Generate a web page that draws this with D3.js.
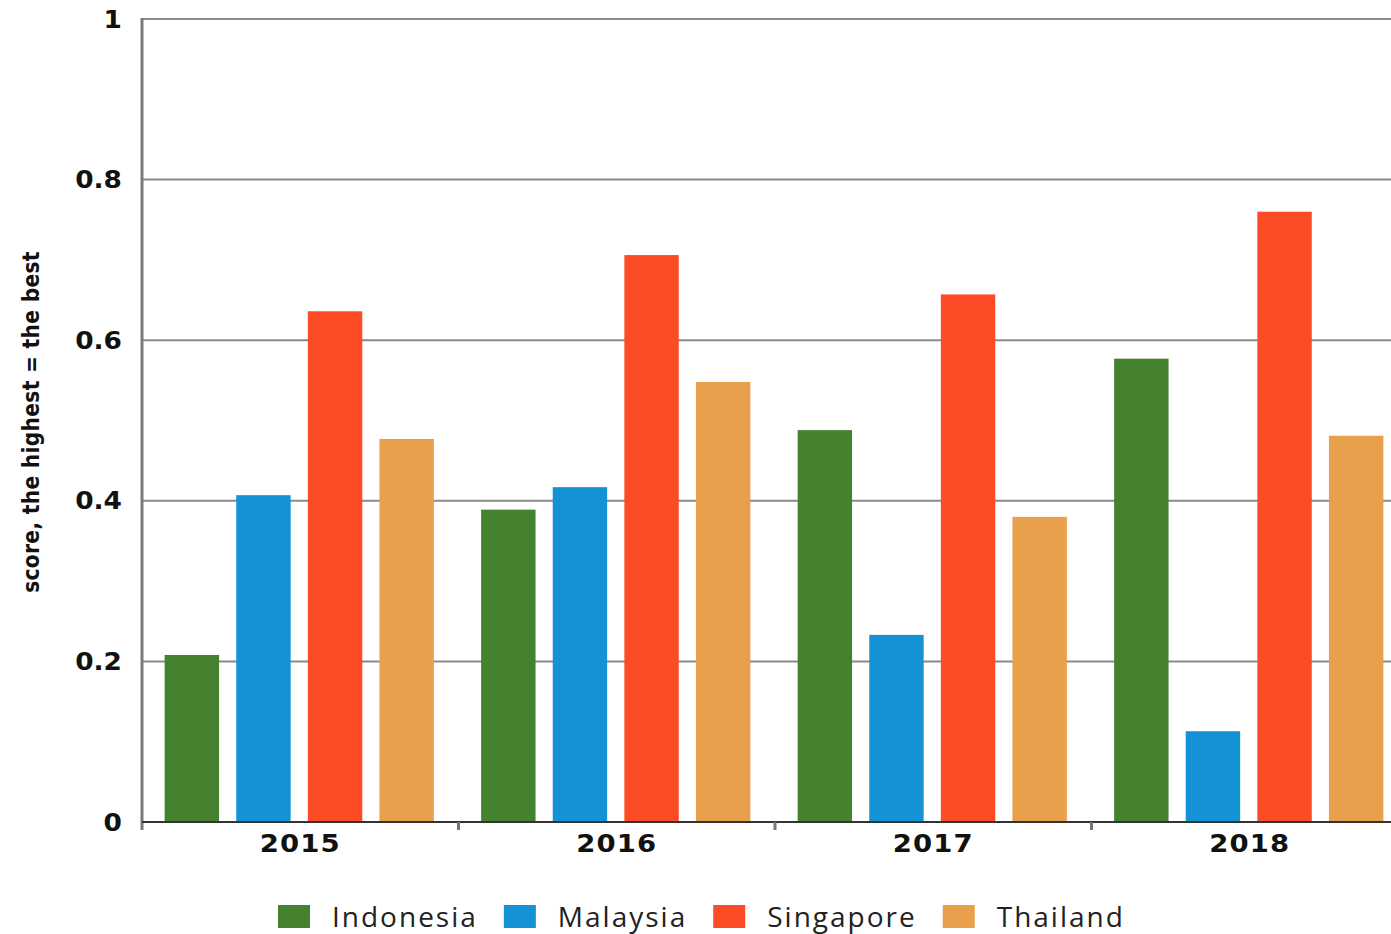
<!DOCTYPE html>
<html><head><meta charset="utf-8">
<script src="https://cdn.jsdelivr.net/npm/d3@7"></script>
<style>body{margin:0;background:#fff;}svg{display:block;}</style>
</head><body>
<svg id="c" width="1391" height="934"></svg>
<script>
const years = ["2015","2016","2017","2018"];
const countries = ["Indonesia","Malaysia","Singapore","Thailand"];
const colors = ["#44822f","#1591d6","#fd4b26","#e8a04d"];
const indonesia = [0.208, 0.389, 0.488, 0.577];
const malaysia  = [0.407, 0.417, 0.233, 0.113];
const singapore = [0.636, 0.706, 0.657, 0.760];
const thailand  = [0.477, 0.548, 0.380, 0.481];
const yTicks = [0, 0.2, 0.4, 0.6, 0.8, 1];
const yTitle = "score, the highest = the best";

const series = [indonesia, malaysia, singapore, thailand];
const svg = d3.select("#c");
const x0 = d3.scaleBand().domain(years).range([142, 1408]).padding(0);
const x1 = d3.scaleBand().domain(countries).range([0, x0.bandwidth()]).paddingInner(0.24).paddingOuter(0.33);
const y = d3.scaleLinear().domain([0, 1]).range([822, 19]);
const color = d3.scaleOrdinal().domain(countries).range(colors);

// gridlines
svg.append("g").selectAll("line").data(yTicks.filter(d => d > 0)).join("line")
  .attr("x1", 142).attr("x2", 1391).attr("y1", d => y(d)).attr("y2", d => y(d))
  .attr("stroke", "#8a8a8a").attr("stroke-width", 2);

// bars
const g = svg.append("g").selectAll("g").data(years).join("g")
  .attr("transform", d => `translate(${x0(d)},0)`);
g.selectAll("rect").data((d, i) => countries.map((c, j) => ({c, v: series[j][i]}))).join("rect")
  .attr("x", d => x1(d.c) - 1).attr("width", x1.bandwidth())
  .attr("y", d => y(d.v)).attr("height", d => y(0) - y(d.v))
  .attr("fill", d => color(d.c));

// left axis line
svg.append("line").attr("x1", 142).attr("x2", 142).attr("y1", 18).attr("y2", 830)
  .attr("stroke", "#7a7a7a").attr("stroke-width", 3);
// bottom axis
svg.append("line").attr("x1", 142).attr("x2", 1391).attr("y1", y(0)).attr("y2", y(0))
  .attr("stroke", "#333").attr("stroke-width", 2);
// ticks at band boundaries
svg.append("g").selectAll("line").data(years.slice(1)).join("line")
  .attr("x1", d => x0(d)).attr("x2", d => x0(d)).attr("y1", y(0)).attr("y2", y(0) + 8)
  .attr("stroke", "#777").attr("stroke-width", 3);

// y tick labels
svg.append("g").selectAll("text").data(yTicks).join("text")
  .attr("transform", d => `translate(122,${y(d)}) scale(1.1,1)`)
  .attr("text-anchor", "end").attr("dy", "0.36em")
  .attr("font-family", "DejaVu Sans").attr("font-weight", "bold").attr("font-size", 24)
  .attr("fill", "#111").text(d => d3.format("~g")(d));

// x labels
svg.append("g").selectAll("text").data(years).join("text")
  .attr("transform", d => `translate(${x0(d) + x0.bandwidth() / 2},852) scale(1.1,1)`)
  .attr("text-anchor", "middle")
  .attr("font-family", "DejaVu Sans").attr("font-weight", "bold").attr("font-size", 25)
  .attr("fill", "#111").attr("letter-spacing", 1).text(d => d);

// y title
svg.append("text").attr("transform", "translate(39,422) rotate(-90)")
  .attr("text-anchor", "middle")
  .attr("font-family", "DejaVu Sans Condensed, DejaVu Sans").attr("font-stretch", "condensed")
  .attr("font-weight", "bold").attr("font-size", 22.5).attr("letter-spacing", 0.3)
  .attr("fill", "#111").text(yTitle);

// legend
const leg = svg.append("g");
let lx = 278;
countries.forEach((c, i) => {
  leg.append("rect").attr("x", lx).attr("y", 905).attr("width", 32).attr("height", 23).attr("fill", colors[i]);
  const t = leg.append("text").attr("x", lx + 54).attr("y", 927)
    .attr("font-family", "Open Sans").attr("font-size", 28).attr("fill", "#222")
    .attr("letter-spacing", 2.0).text(c);
  const w = t.node().getComputedTextLength();
  lx += 54 + w + 26;
});
</script>
</body></html>
